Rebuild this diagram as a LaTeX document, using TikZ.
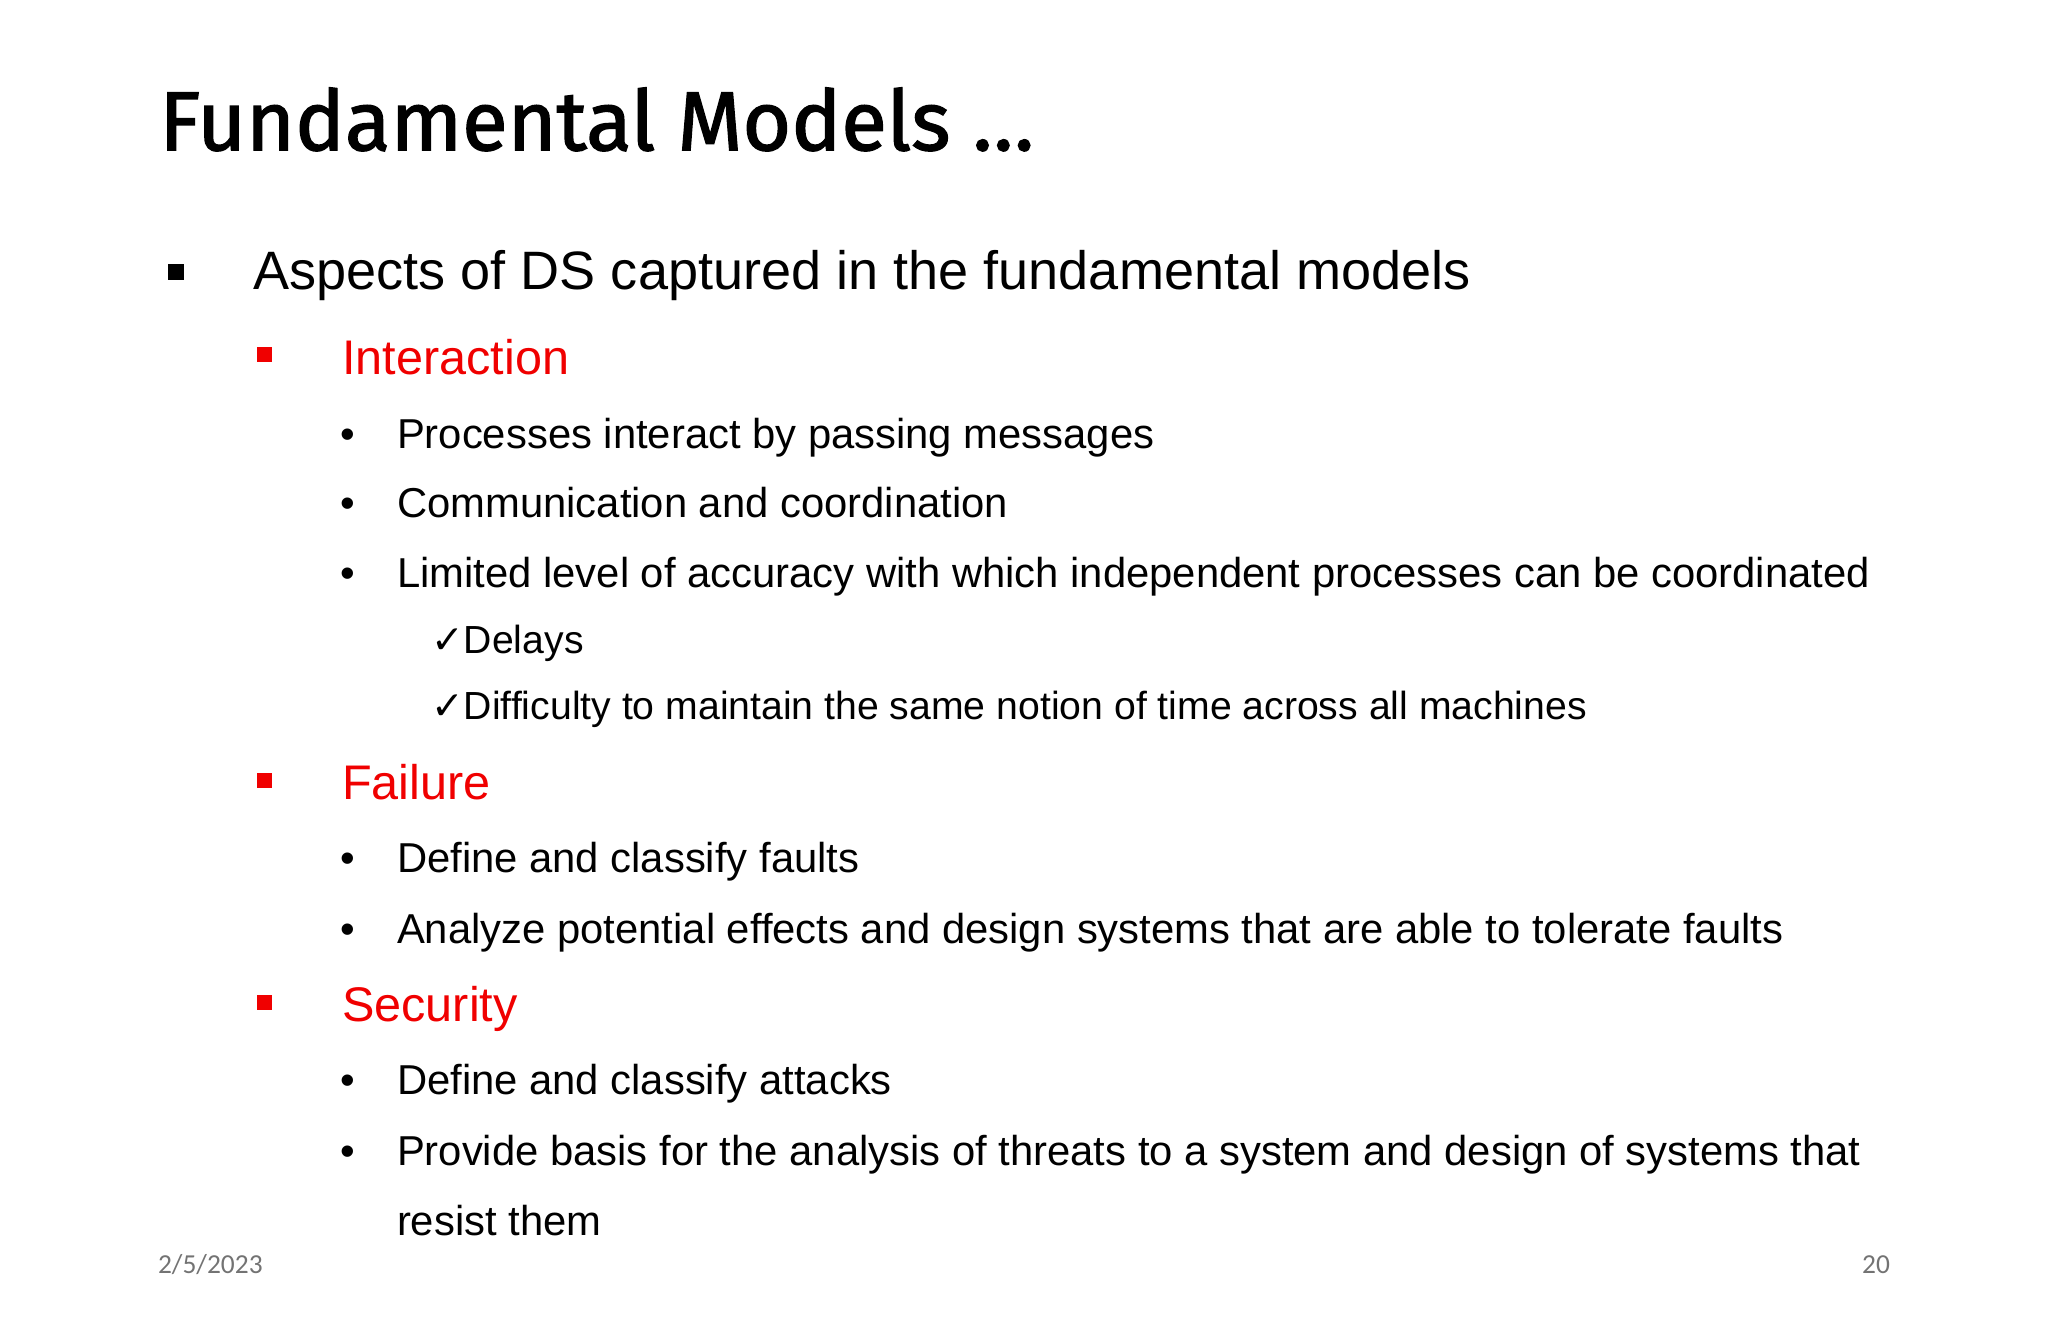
\documentclass[tikz,border=0pt]{standalone}
\usepackage{fontspec}
\setmainfont{Liberation Sans}
\newfontfamily\titlefont[FakeBold=1.6]{Fira Sans}
\newfontfamily\footfont{Carlito}
\newfontfamily\symfont{DejaVu Sans}
\definecolor{myred}{RGB}{240,0,0}
\begin{document}
\begin{tikzpicture}[x=0.5pt,y=-0.5pt,
  every node/.style={inner sep=0pt,outer sep=0pt},
  lvl/.style={anchor=base west,font=\fontsize{20.7}{24}\selectfont},
  red/.style={anchor=base west,font=\fontsize{18.6}{22}\selectfont,text=myred},
  sub/.style={anchor=base west,font=\fontsize{16}{18}\selectfont},
  chk/.style={anchor=base west,font=\fontsize{15}{17}\selectfont},
  foot/.style={font=\footfont\fontsize{10.5}{12}\selectfont,text=black!55}]
\useasboundingbox (0,0) rectangle (1568,1014);
\node[anchor=base west,font=\titlefont\fontsize{32}{40}\selectfont] (title) at (122,115) {Fundamental Models …};
\fill (129,202) rectangle (141,214);
\node[lvl] (a) at (194,222) {Aspects of DS captured in the fundamental models};
\foreach \y in {272,598,768}{\fill[myred] (197,\y-6) rectangle (208,\y+5);}
\node[red] (i) at (262,287) {Interaction};
\node[red] (f) at (262,612) {Failure};
\node[red] (s) at (262,782) {Security};
\foreach \y in {343,396,450,668,722,838,892}{\node[sub] at (261,\y) {•};}
\node[sub] (i1) at (304,343) {Processes interact by passing messages};
\node[sub] (i2) at (304,396) {Communication and coordination};
\node[sub] (i3) at (304,450) {Limited level of accuracy with which independent processes can be coordinated};
\node[chk] (c1) at (330,500) {{\symfont ✓}Delays};
\node[chk] (c2) at (330,551) {{\symfont ✓}Difficulty to maintain the same notion of time across all machines};
\node[sub] (f1) at (304,668) {Define and classify faults};
\node[sub] (f2) at (304,722) {Analyze potential effects and design systems that are able to tolerate faults};
\node[sub] (s1) at (304,838) {Define and classify attacks};
\node[sub] (s2) at (304,892) {Provide basis for the analysis of threats to a system and design of systems that};
\node[sub] (s3) at (304,946) {resist them};
\node[foot,anchor=base west] (d) at (121,975) {2/5/2023};
\node[foot,anchor=base east] (p) at (1447,975) {20};
\end{tikzpicture}
\end{document}
